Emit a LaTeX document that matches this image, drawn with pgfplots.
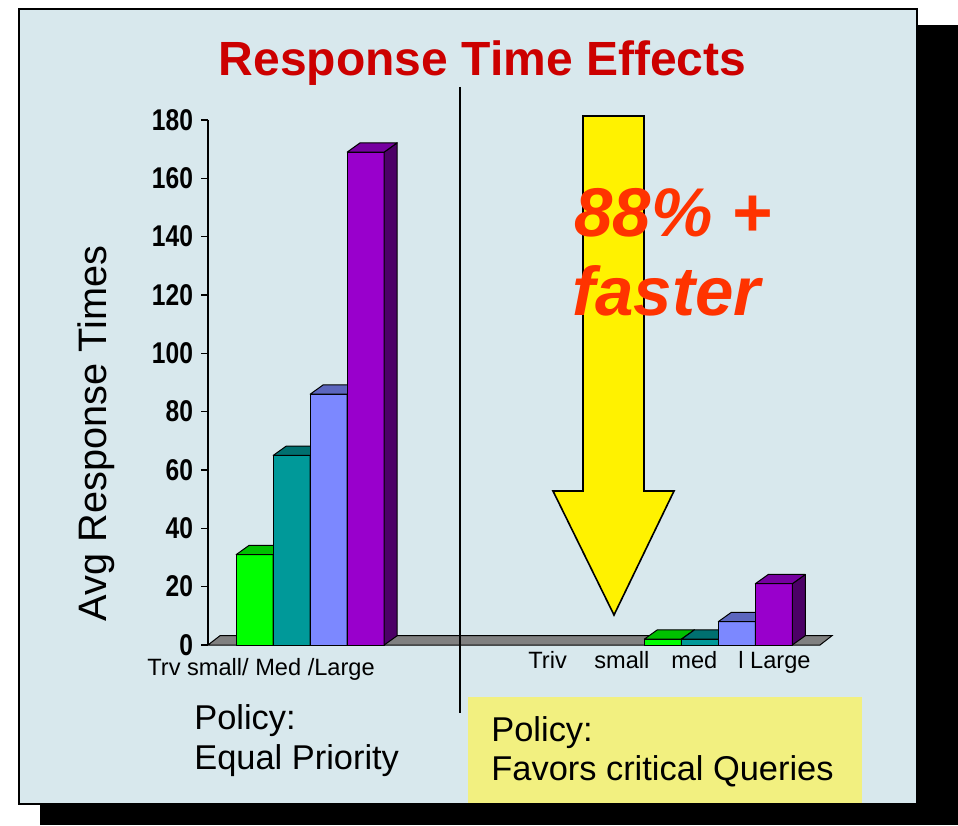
\documentclass[border=0pt]{standalone}
\usepackage{fontspec}
\setmainfont{Liberation Sans}
\newfontfamily\narrowfont[FakeStretch=0.82]{Liberation Sans}
\usepackage{pgfplots}
\usepackage{pgfplotstable}
\pgfplotsset{compat=1.18}

\definecolor{slidebg}{RGB}{216,232,237}
\definecolor{titlered}{RGB}{204,0,0}
\definecolor{fastred}{RGB}{255,51,0}
\definecolor{boxyellow}{RGB}{242,240,128}
\definecolor{gF}{RGB}{0,255,0}
\definecolor{gT}{RGB}{0,192,0}
\definecolor{gS}{RGB}{0,120,0}
\definecolor{tF}{RGB}{0,153,153}
\definecolor{tT}{RGB}{0,112,112}
\definecolor{tS}{RGB}{0,80,80}
\definecolor{bF}{RGB}{124,136,255}
\definecolor{bT}{RGB}{92,102,190}
\definecolor{bS}{RGB}{60,68,130}
\definecolor{pF}{RGB}{153,0,204}
\definecolor{pT}{RGB}{118,0,160}
\definecolor{pS}{RGB}{76,0,102}
\definecolor{floorgrey}{RGB}{128,128,128}

% x = bar centre (horizontal position in px units), h = avg response time
\pgfplotstableread{
x h
254.7 31
662.8 2
}\trivdata
\pgfplotstableread{
x h
291.7 65
700.0 2
}\smalldata
\pgfplotstableread{
x h
328.7 86
736.8 8
}\meddata
\pgfplotstableread{
x h
365.7 169
773.8 21
}\largedata

\pgfdeclareplotmark{nothing}{}
\pgfplotsset{
  bar3d/.style n args={3}{only marks, scatter, mark=nothing,
    point meta=explicit symbolic,
    scatter/@pre marker code/.code={%
      \path[fill=#1,draw=black,line width=0.5pt,line join=round]
        (axis direction cs:-18.5,0) -- ++(axis direction cs:0,-\pgfplotspointmeta)
        -- ++(axis direction cs:37,0) -- ++(axis direction cs:0,\pgfplotspointmeta) -- cycle;
      \path[fill=#3,draw=black,line width=0.5pt,line join=round]
        (axis direction cs:18.5,0) -- ++(axis direction cs:0,-\pgfplotspointmeta)
        -- ++(axis direction cs:13,3.19) -- ++(axis direction cs:0,\pgfplotspointmeta) -- cycle;
      \path[fill=#2,draw=black,line width=0.5pt,line join=round]
        (axis direction cs:-18.5,0) -- (axis direction cs:18.5,0)
        -- (axis direction cs:31.5,3.19) -- (axis direction cs:-5.5,3.19) -- cycle;
    },
    scatter/@post marker code/.code={},
  },
}

\begin{document}
\begin{tikzpicture}[x=0.5pt,y=0.5pt]
\path[use as bounding box] (0,0) rectangle (958,825);
\fill[white] (0,0) rectangle (958,825);
% shadow and slide
\fill[black] (40,0) rectangle (958,800);
\fill[slidebg] (19,21) rectangle (917,816);
\fill[boxyellow] (467.5,21) rectangle (861.7,127.7);
\draw[black, line width=1pt] (19,21) rectangle (917,816);

% title
\node[anchor=base, inner sep=0, text=titlered,
  font=\bfseries\fontsize{24}{28}\selectfont] at (482.5,749) {Response Time Effects};

\begin{axis}[
  at={(104pt,90pt)}, anchor=south west, scale only axis,
  width=312pt, height=262.5pt,
  xmin=208, xmax=832, ymin=0, ymax=180,
  clip=false,
  axis x line=none, axis y line*=left,
  axis line style={black, line width=0.6pt},
  ytick={0,20,...,180},
  tick align=outside, major tick length=3.5pt,
  tick style={black, line width=0.6pt},
  yticklabel style={font=\narrowfont\bfseries\fontsize{15}{15}\selectfont, text=black,
    inner sep=1pt, xshift=-2.8pt},
  /pgf/number format/assume math mode=true,
]
% floor
\addplot[fill=floorgrey, draw=black, line width=0.5pt]
  coordinates {(208,0) (820,0) (832,3.19) (220,3.19)} -- cycle;
% bars (front, top, side colours)
\addplot[bar3d={gF}{gT}{gS}] table[x=x,y=h,meta=h] {\trivdata};
\addplot[bar3d={tF}{tT}{tS}] table[x=x,y=h,meta=h] {\smalldata};
\addplot[bar3d={bF}{bT}{bS}] table[x=x,y=h,meta=h] {\meddata};
\addplot[bar3d={pF}{pT}{pS}] table[x=x,y=h,meta=h] {\largedata};
\end{axis}

% y label
\node[rotate=90, anchor=base, inner sep=0, font=\fontsize{19.85}{24}\selectfont]
  at (106,391.5) {Avg Response Times};

% category labels
\node[anchor=base west, inner sep=0, font=\fontsize{11.8}{14}\selectfont] at (147,150) {Trv small/ Med /Large};
\node[anchor=base west, inner sep=0, font=\fontsize{11.8}{14}\selectfont] at (528,157) {Triv};
\node[anchor=base west, inner sep=0, font=\fontsize{11.8}{14}\selectfont] at (594,157) {small};
\node[anchor=base west, inner sep=0, font=\fontsize{11.8}{14}\selectfont] at (671,157) {med};
\node[anchor=base west, inner sep=0, font=\fontsize{11.8}{14}\selectfont] at (738,157) {l Large};

% separator
\draw[black, line width=0.8pt] (460,738) -- (460,112);

% arrow
\filldraw[fill=yellow, draw=black, line width=0.8pt, line join=miter]
  (583,709) -- (644,709) -- (644,334) -- (674,334) -- (614,210) -- (553,334) -- (583,334) -- cycle;

% 88% + faster
\node[anchor=base west, inner sep=0, text=fastred,
  font=\bfseries\itshape\fontsize{34.5}{40}\selectfont] at (574,588) {88\% +};
\node[anchor=base west, inner sep=0, text=fastred,
  font=\bfseries\itshape\fontsize{34.5}{40}\selectfont] at (572,509) {faster};

% policies
\node[anchor=base west, inner sep=0, font=\fontsize{17.2}{20}\selectfont] at (194,96) {Policy:};
\node[anchor=base west, inner sep=0, font=\fontsize{17.2}{20}\selectfont] at (194,56) {Equal Priority};
\node[anchor=base west, inner sep=0, font=\fontsize{17.2}{20}\selectfont] at (491,83.3) {Policy:};
\node[anchor=base west, inner sep=0, font=\fontsize{17.2}{20}\selectfont] at (491,45) {Favors critical Queries};
\end{tikzpicture}
\end{document}
